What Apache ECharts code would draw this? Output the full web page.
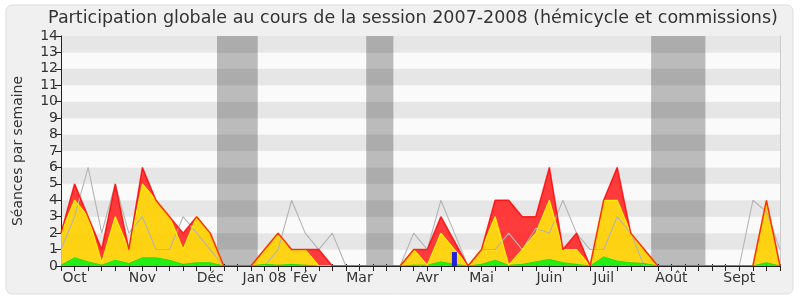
<!DOCTYPE html>
<html><head><meta charset="utf-8">
<script src="https://cdn.jsdelivr.net/npm/echarts@6/dist/echarts.min.js"></script>
<style>html,body{margin:0;padding:0;background:#fff}#c{width:800px;height:300px}</style>
</head><body><div id="c"></div>
<script>
// Weekly data (54 weeks, session 2007-2008)
var weeks = [];
for (var w = 0; w < 54; w++) weeks.push(String(w));
var monthLabels = {1:'Oct',6:'Nov',11:'Déc',15:'Jan 08',18:'Fév',22:'Mar',27:'Avr',31:'Mai',36:'Juin',40:'Juil',45:'Août',50:'Sept'};
// cumulative tops
var totalTop  = [2,5,3,1,5,1,6,4,3,2,3,2,0,0,0,1,2,1,1,1,0,0,0,0,0,0,1,1,3,1.5,0,1,4,4,3,3,6,1,2,0,4,6,2,1,0,0,0,0,0,0,0,0,4,0];
var yellowTop = [2,4,3,0.2,3,1,5,4,3,1,3,2,0,0,0,1,2,1,1,0,0,0,0,0,0,0,1,0.05,2,1,0,1,3,0.05,1,2,4,1,1,0,4,4,2,1,0,0,0,0,0,0,0,0,4,0];
var greenTop  = [0.05,0.5,0.25,0.05,0.35,0.15,0.5,0.5,0.35,0.1,0.2,0.2,0,0,0,0.1,0.05,0.1,0.05,0,0,0,0,0,0,0,0.05,0.05,0.25,0.1,0,0.1,0.35,0.05,0.1,0.25,0.4,0.2,0.1,0,0.55,0.3,0.2,0.15,0,0,0,0,0,0,0,0,0.2,0];
var grayLine  = [1,3,6,2,5,2,3,1,1,3,2,1,0,0,0,0,1,4,2,1,2,0,0,0,0,0,2,1,4,2,0,1,1,2,1,2.3,2,4,2,1,1,3,2,0,0,0,0,0,0,0,0,4,3.3,1];
var blueWeek = 29, blueValue = 0.85;
var vacations = [[11.5,14.5],[22.5,24.5],[43.5,47.5]];
var yTicks = [0,1,2,3,4,5,6,7,8,9,10,11,12,13,14];

function diff(a,b){ return a.map(function(v,i){ return Math.max(0, +(v - b[i]).toFixed(3)); }); }
var blueData = weeks.map(function(w, i){ return i === blueWeek ? blueValue : null; });

var font = 'DejaVu Sans';
var chart = echarts.init(document.getElementById('c'), null, {renderer:'canvas'});
chart.setOption({
  animation:false,
  backgroundColor:'transparent',
  textStyle:{fontFamily:font},
  graphic:[
    {type:'rect', z:-10, shape:{x:6,y:5,width:787,height:289,r:6}, style:{fill:'#f0f0f0', stroke:'#dddddd', lineWidth:1}},
    {type:'text', z:10, style:{x:413, y:9, text:'Participation globale au cours de la session 2007-2008 (hémicycle et commissions)', textAlign:'center', fill:'#333', font:'17.5px "DejaVu Sans"'}}
  ],
  grid:{left:61, right:20, top:36, bottom:34},
  xAxis:[{
    type:'category', data:weeks, boundaryGap:false, z:10,
    axisLine:{show:true, onZero:false, lineStyle:{color:'#222', width:1}},
    axisTick:{show:true, interval:0, length:5, lineStyle:{color:'#222'}},
    splitLine:{show:false},
    axisLabel:{show:true, interval:0, color:'#333', fontSize:14, margin:5, fontFamily:font,
      formatter:function(v, i){ return monthLabels[i] || ''; }}
  },{
    type:'value', min:0, max:53, interval:1, position:'top',
    axisLine:{show:false}, axisTick:{show:true, length:2, lineStyle:{color:'#222'}},
    axisLabel:{show:false}, splitLine:{show:false}
  }],
  yAxis:[{
    type:'value', min:0, max:14, interval:1,
    name:'Séances par semaine', nameLocation:'middle', nameGap:36,
    nameTextStyle:{color:'#333', fontSize:14, fontFamily:font},
    axisLine:{show:true, lineStyle:{color:'#222'}},
    axisTick:{show:true, length:6, lineStyle:{color:'#222'}},
    axisLabel:{color:'#333', fontSize:14, margin:3, fontFamily:font,
      formatter:function(v){ return yTicks.indexOf(v) >= 0 ? String(v) : ''; }},
    splitLine:{show:false},
    splitArea:{show:true, areaStyle:{color:['#fafafa','#e6e6e6']}}
  },{
    type:'value', min:0, max:14, interval:1, position:'right',
    axisLine:{show:true, lineStyle:{color:'#cccccc'}},
    axisTick:{show:false}, axisLabel:{show:false}, splitLine:{show:false}
  }],
  series:[
    {type:'line', name:'vacances', xAxisIndex:1, data:[], markArea:{silent:true, itemStyle:{color:'rgba(0,0,0,0.25)'},
      data: vacations.map(function(v){ return [{xAxis:v[0]},{xAxis:v[1]}]; })}},
    {type:'line', name:'moyenne', data:grayLine, symbol:'none', lineStyle:{color:'#b4b4b4', width:1.1}},
    {type:'line', name:'vert', stack:'p', data:greenTop, symbol:'none',
      lineStyle:{color:'#22dd00', width:1}, areaStyle:{color:'#10ee00', opacity:0.92}},
    {type:'line', name:'jaune', stack:'p', data:diff(yellowTop, greenTop), symbol:'none',
      lineStyle:{color:'#ffee00', width:1.3}, areaStyle:{color:'#ffd000', opacity:0.92}},
    {type:'line', name:'rouge', stack:'p', data:diff(totalTop, yellowTop), symbol:'none',
      lineStyle:{color:'#ff0000', width:1.5, opacity:0.8}, areaStyle:{color:'#ff2a2a', opacity:0.92}},
    {type:'bar', name:'bleu', data:blueData, barWidth:5, z:5, itemStyle:{color:'#2222dd'}}
  ]
});
</script></body></html>
